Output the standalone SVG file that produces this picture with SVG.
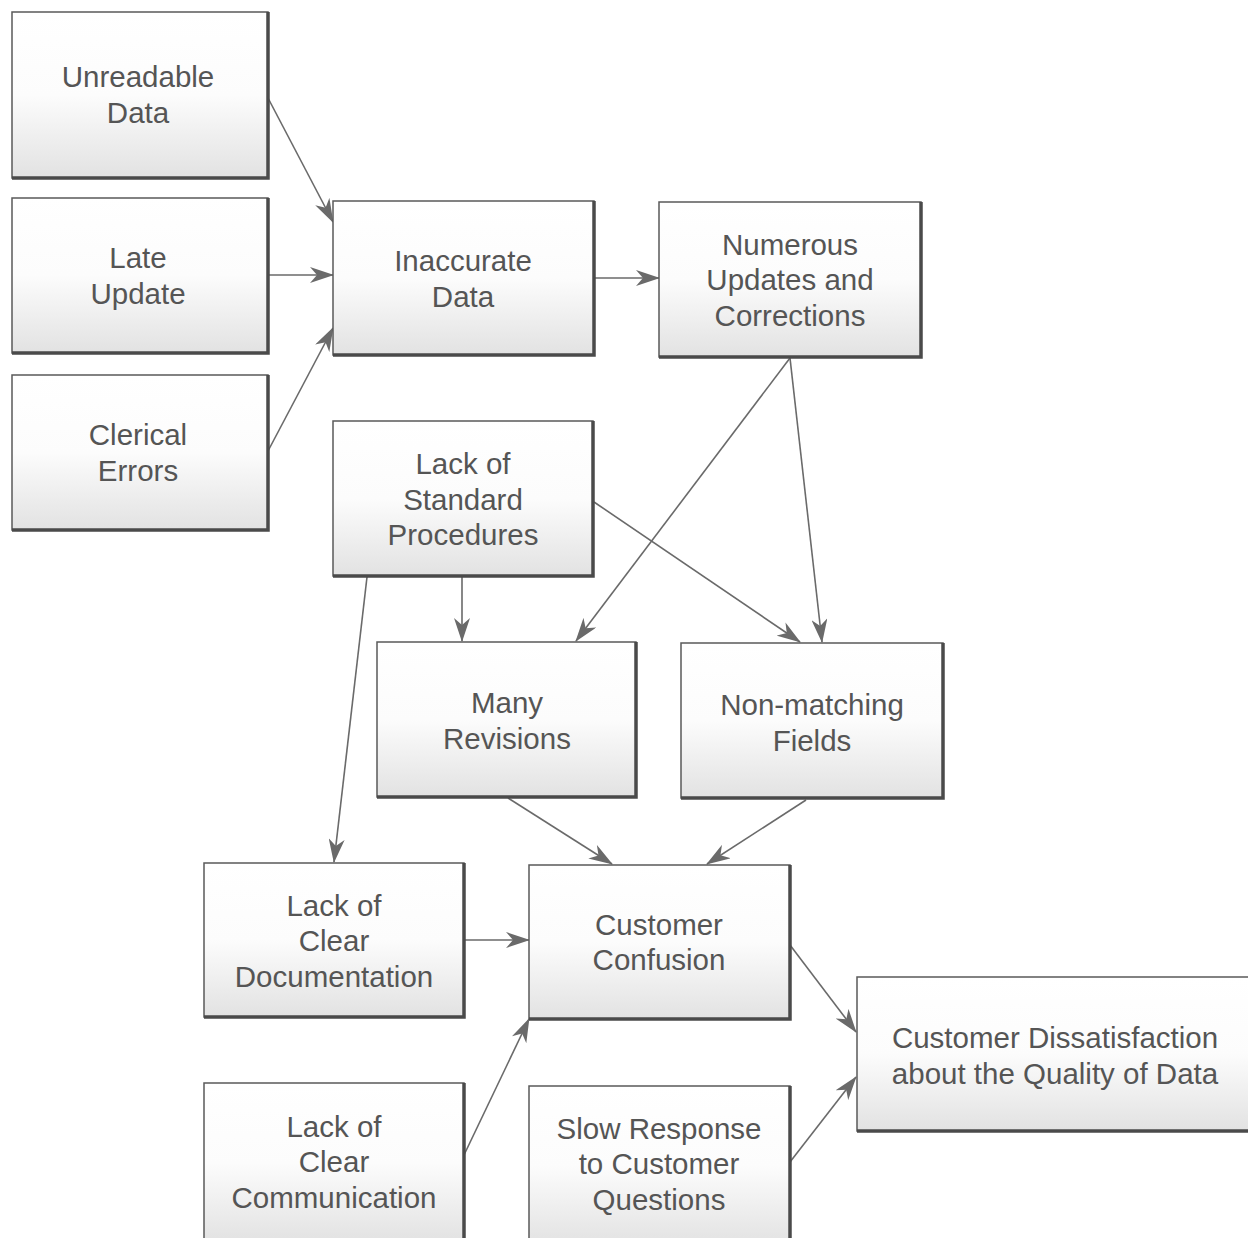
<svg xmlns="http://www.w3.org/2000/svg" width="1248" height="1238" viewBox="0 0 1248 1238">
<defs>
<linearGradient id="g" x1="0" y1="0" x2="0" y2="1">
<stop offset="0" stop-color="#ffffff"/>
<stop offset="0.5" stop-color="#fcfcfc"/>
<stop offset="1" stop-color="#e2e2e2"/>
</linearGradient>
<marker id="ah" markerWidth="24" markerHeight="16" refX="23" refY="8" orient="auto" markerUnits="userSpaceOnUse">
<path d="M0,0 L24,8 L0,16 L7,8 Z" fill="#6a6a6a"/>
</marker>
</defs>
<style>
.box{fill:url(#g);stroke:#5a5a5a;stroke-width:1.5}
.sh{fill:none;stroke:#4a4a4a;stroke-width:3.5}
.t{font-family:"Liberation Sans",Arial,sans-serif;font-size:29.5px;fill:#555555;text-anchor:middle}
.c{stroke:#6a6a6a;stroke-width:1.6;fill:none;marker-end:url(#ah)}
</style>
<rect width="1248" height="1238" fill="#ffffff"/>

<g id="connectors">
<line class="c" x1="268" y1="98" x2="333" y2="222"/>
<line class="c" x1="268" y1="275" x2="333" y2="275"/>
<line class="c" x1="268" y1="451" x2="333" y2="328"/>
<line class="c" x1="594" y1="278" x2="659" y2="278"/>
<line class="c" x1="790" y1="358" x2="576" y2="641"/>
<line class="c" x1="790" y1="358" x2="822" y2="642"/>
<line class="c" x1="594" y1="502" x2="800" y2="642"/>
<line class="c" x1="462" y1="577" x2="462" y2="641"/>
<line class="c" x1="367" y1="577" x2="334" y2="862"/>
<line class="c" x1="508" y1="798" x2="612" y2="864"/>
<line class="c" x1="806" y1="800" x2="707" y2="864"/>
<line class="c" x1="464" y1="940" x2="529" y2="940"/>
<line class="c" x1="464" y1="1155" x2="529" y2="1019"/>
<line class="c" x1="790" y1="945" x2="856" y2="1032"/>
<line class="c" x1="790" y1="1162" x2="856" y2="1077"/>
</g>

<g id="n1">
<rect class="box" x="12" y="12" width="256" height="166"/>
<polyline class="sh" points="12,178 268,178 268,12"/>
<text class="t" x="138" y="87">Unreadable</text>
<text class="t" x="138" y="123">Data</text>
</g>
<g id="n2">
<rect class="box" x="12" y="198" width="256" height="155"/>
<polyline class="sh" points="12,353 268,353 268,198"/>
<text class="t" x="138" y="268">Late</text>
<text class="t" x="138" y="304">Update</text>
</g>
<g id="n3">
<rect class="box" x="12" y="375" width="256" height="155"/>
<polyline class="sh" points="12,530 268,530 268,375"/>
<text class="t" x="138" y="445">Clerical</text>
<text class="t" x="138" y="481">Errors</text>
</g>
<g id="n4">
<rect class="box" x="333" y="201" width="261" height="154"/>
<polyline class="sh" points="333,355 594,355 594,201"/>
<text class="t" x="463" y="271">Inaccurate</text>
<text class="t" x="463" y="307">Data</text>
</g>
<g id="n5">
<rect class="box" x="659" y="202" width="262" height="155"/>
<polyline class="sh" points="659,357 921,357 921,202"/>
<text class="t" x="790" y="255">Numerous</text>
<text class="t" x="790" y="290">Updates and</text>
<text class="t" x="790" y="326">Corrections</text>
</g>
<g id="n6">
<rect class="box" x="333" y="421" width="260" height="155"/>
<polyline class="sh" points="333,576 593,576 593,421"/>
<text class="t" x="463" y="474">Lack of</text>
<text class="t" x="463" y="510">Standard</text>
<text class="t" x="463" y="545">Procedures</text>
</g>
<g id="n7">
<rect class="box" x="377" y="642" width="259" height="155"/>
<polyline class="sh" points="377,797 636,797 636,642"/>
<text class="t" x="507" y="713">Many</text>
<text class="t" x="507" y="749">Revisions</text>
</g>
<g id="n8">
<rect class="box" x="681" y="643" width="262" height="155"/>
<polyline class="sh" points="681,798 943,798 943,643"/>
<text class="t" x="812" y="715">Non-matching</text>
<text class="t" x="812" y="751">Fields</text>
</g>
<g id="n9">
<rect class="box" x="204" y="863" width="260" height="154"/>
<polyline class="sh" points="204,1017 464,1017 464,863"/>
<text class="t" x="334" y="916">Lack of</text>
<text class="t" x="334" y="951">Clear</text>
<text class="t" x="334" y="987">Documentation</text>
</g>
<g id="n10">
<rect class="box" x="529" y="865" width="261" height="154"/>
<polyline class="sh" points="529,1019 790,1019 790,865"/>
<text class="t" x="659" y="935">Customer</text>
<text class="t" x="659" y="970">Confusion</text>
</g>
<g id="n11">
<rect class="box" x="204" y="1083" width="260" height="160"/>
<polyline class="sh" points="464,1243 464,1083"/>
<text class="t" x="334" y="1137">Lack of</text>
<text class="t" x="334" y="1172">Clear</text>
<text class="t" x="334" y="1208">Communication</text>
</g>
<g id="n12">
<rect class="box" x="529" y="1086" width="261" height="160"/>
<polyline class="sh" points="790,1246 790,1086"/>
<text class="t" x="659" y="1139">Slow Response</text>
<text class="t" x="659" y="1174">to Customer</text>
<text class="t" x="659" y="1210">Questions</text>
</g>
<g id="n13">
<rect class="box" x="857" y="977" width="400" height="154"/>
<polyline class="sh" points="857,1131 1257,1131"/>
<text class="t" x="1055" y="1048">Customer Dissatisfaction</text>
<text class="t" x="1055" y="1084">about the Quality of Data</text>
</g>
</svg>
